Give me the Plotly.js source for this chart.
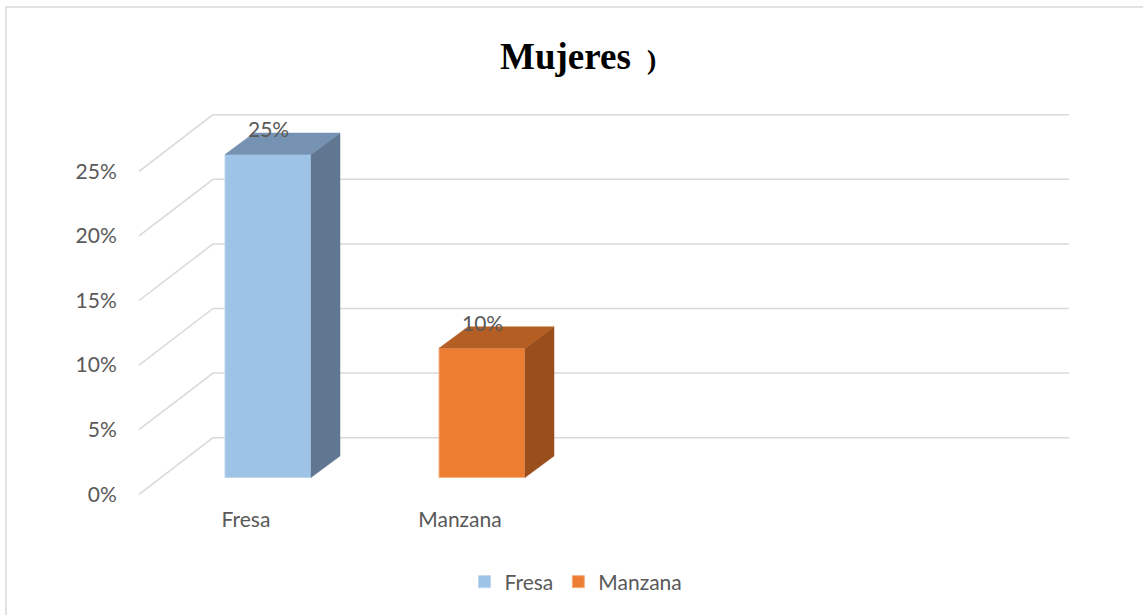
<!DOCTYPE html>
<html><head><meta charset="utf-8">
<script src="https://cdn.plot.ly/plotly-3.0.1.min.js"></script>
<style>html,body{margin:0;padding:0;background:#fff;} #chart{width:1143px;height:615px;}</style>
</head><body><div id="chart"></div>
<script>
// ---- data ----
const categories = ["Fresa", "Manzana"];
const values = [25, 10];
const tickValues = [0, 5, 10, 15, 20, 25];
const tickLabels = ["0%", "5%", "10%", "15%", "20%", "25%"];
const titleMain = "Mujeres";
const titleTail = ")";

// ---- styles ----
const frontColors = ["#9DC3E6", "#ED7D31"];
const edgeColors = ["#BDD7EE", "#F4B183"];
const topColors = ["#7692B2", "#B55E23"];
const sideColors = ["#617791", "#9A4E1C"];
const gridColor = "#D9D9D9";
const textColor = "#595959";
const font = "Lato, 'Open Sans', sans-serif";

// ---- geometry (pixel scale of the oblique projection) ----
const W = 1143, H = 615;
const plotL = 125, plotR = 1085, plotT = 100, plotB = 505;
const catX0 = 268, catPx = 214;      // bar-front centre of first category and spacing
const baseY = 477.5, pctPx = 12.92;   // bar-front zero line and px per percent
const xr = [(plotL - catX0) / catPx, (plotR - catX0) / catPx];
const yr = [(baseY - plotB) / pctPx, (baseY - plotT) / pctPx];
const barW = 86 / catPx;
const depthDx = 29 / catPx, depthDy = 21.5 / pctPx;
const frontDx = -22 / catPx, frontDy = -16.8 / pctPx;
const backDx = 52 / catPx, backDy = 39.8 / pctPx;
const wallLeft = -0.5, wallRight = 3.5;

const traces = [];
categories.forEach((c, i) => {
  traces.push({
    type: "bar", name: c, x: [i], y: [values[i]], width: barW,
    marker: {color: frontColors[i], line: {color: edgeColors[i], width: 1}},
    hoverinfo: "name+y"
  });
});
categories.forEach((c, i) => {
  const v = values[i], xl = i - barW / 2, xrr = i + barW / 2;
  // side face
  traces.push({
    type: "scatter", mode: "lines", fill: "toself", showlegend: false, hoverinfo: "skip",
    x: [xrr, xrr + depthDx, xrr + depthDx, xrr, xrr],
    y: [0, depthDy, v + depthDy, v, 0],
    fillcolor: sideColors[i], line: {color: sideColors[i], width: 0.5}
  });
  // top face
  traces.push({
    type: "scatter", mode: "lines", fill: "toself", showlegend: false, hoverinfo: "skip",
    x: [xl, xrr, xrr + depthDx, xl + depthDx, xl],
    y: [v, v, v + depthDy, v + depthDy, v],
    fillcolor: topColors[i], line: {color: topColors[i], width: 0.5}
  });
});

const shapes = [];
tickValues.forEach(t => {
  shapes.push({type: "line", xref: "x", yref: "y", layer: "below",
    x0: wallLeft + backDx, x1: wallRight + backDx, y0: t + backDy, y1: t + backDy,
    line: {color: gridColor, width: 1.5}});
  shapes.push({type: "line", xref: "x", yref: "y", layer: "below",
    x0: wallLeft + frontDx, x1: wallLeft + backDx, y0: t + frontDy, y1: t + backDy,
    line: {color: gridColor, width: 1.5}});
});
// outer chart border
const px2paperX = p => (p - plotL) / (plotR - plotL);
const px2paperY = p => (plotB - p) / (plotB - plotT);
shapes.push({type: "rect", xref: "paper", yref: "paper",
  x0: px2paperX(6), x1: px2paperX(W + 20), y0: px2paperY(7), y1: px2paperY(H + 20),
  line: {color: gridColor, width: 1.5}, fillcolor: "rgba(0,0,0,0)"});

const annotations = values.map((v, i) => ({
  x: i, y: v, xref: "x", yref: "y", text: v + "%", showarrow: false,
  yanchor: "middle", yshift: 26, font: {family: font, size: 21, color: textColor}
}));

const layout = {
  width: W, height: H,
  margin: {l: plotL, r: W - plotR, t: plotT, b: H - plotB},
  paper_bgcolor: "#fff", plot_bgcolor: "rgba(0,0,0,0)",
  title: {
    text: "<b>" + titleMain + " <span style='font-size:28px'>&nbsp;" + titleTail + "</span></b>",
    font: {family: "'Liberation Serif', 'Times New Roman', serif", size: 37, color: "#000"},
    xref: "container", yref: "container", x: 500 / W, xanchor: "left",
    y: 1 - 56 / H, yanchor: "middle"
  },
  barmode: "overlay",
  showlegend: true,
  legend: {orientation: "h", xref: "container", yref: "container",
    x: 576 / W, xanchor: "center", y: 1 - 582 / H, yanchor: "middle",
    font: {family: font, size: 21, color: textColor}},
  xaxis: {range: xr, showgrid: false, zeroline: false, showline: false,
    tickmode: "array", tickvals: categories.map((c, i) => i + frontDx), ticktext: categories,
    ticks: "", tickfont: {family: font, size: 21, color: textColor}, fixedrange: true},
  yaxis: {range: yr, showgrid: false, zeroline: false, showline: false,
    tickmode: "array", tickvals: tickValues.map(t => t + frontDy), ticktext: tickLabels,
    ticks: "outside", ticklen: 3, tickcolor: "rgba(0,0,0,0)",
    tickfont: {family: font, size: 21, color: textColor}, fixedrange: true},
  shapes: shapes,
  annotations: annotations
};

Plotly.newPlot("chart", traces, layout, {displayModeBar: false, staticPlot: true});
</script>
</body></html>
